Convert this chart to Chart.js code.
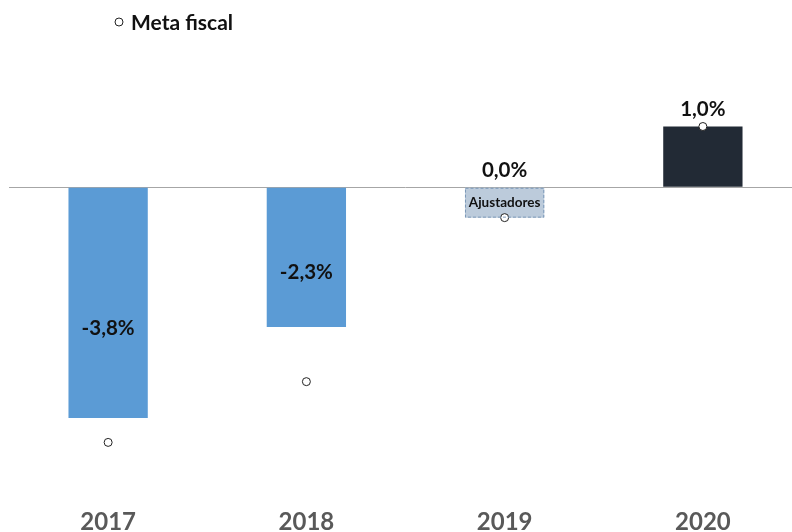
<!DOCTYPE html>
<html>
<head>
<meta charset="utf-8">
<script src="https://cdn.jsdelivr.net/npm/chart.js@4/dist/chart.umd.min.js"></script>
<style>
  html, body { margin: 0; padding: 0; background: #fff; overflow: hidden; }
  #wrap { position: relative; width: 807px; height: 540px; }
</style>
</head>
<body>
<div id="wrap"><canvas id="chart"></canvas></div>
<script>
const years = ["2017", "2018", "2019", "2020"];
const resultado = [-3.8, -2.3, 0.0, 1.0];
const resultadoLabels = ["-3,8%", "-2,3%", "0,0%", "1,0%"];
const ajustadores = [null, null, -0.5, null];
const metaFiscal = [-4.2, -3.2, -0.5, 1.0];
const barColors = ["#5b9bd5", "#5b9bd5", "#5b9bd5", "#222a35"];

const FONT = "Lato, 'Open Sans', sans-serif";

// value labels, the Ajustadores box border and the legend
const extras = {
  id: "extras",
  afterDatasetsDraw(chart) {
    const ctx = chart.ctx;
    const yScale = chart.scales.y;

    // dashed box around ajustadores
    const adjMeta = chart.getDatasetMeta(1);
    adjMeta.data.forEach((el, i) => {
      if (ajustadores[i] == null) return;
      const left = el.x - el.width / 2;
      ctx.save();
      ctx.strokeStyle = "#7b98b8";
      ctx.lineWidth = 1;
      ctx.setLineDash([3, 2]);
      ctx.strokeRect(left + 0.5, el.base + 0.5, el.width - 1, el.y - el.base - 1);
      ctx.restore();
      ctx.save();
      ctx.font = "bold 13.5px " + FONT;
      ctx.fillStyle = "#111";
      ctx.textAlign = "center";
      ctx.textBaseline = "middle";
      ctx.fillText("Ajustadores", el.x, (el.base + el.y) / 2);
      ctx.restore();
    });

    // value labels
    const barMeta = chart.getDatasetMeta(0);
    ctx.save();
    ctx.font = "bold 20.5px " + FONT;
    ctx.fillStyle = "#111";
    ctx.textAlign = "center";
    ctx.textBaseline = "middle";
    barMeta.data.forEach((el, i) => {
      const v = resultado[i];
      let y;
      if (v < 0) {
        y = yScale.getPixelForValue(v * 0.61);
      } else {
        y = el.y - 17;
      }
      ctx.fillText(resultadoLabels[i], el.x, y);
    });
    ctx.restore();
  },
  afterDraw(chart) {
    // legend
    const ctx = chart.ctx;
    ctx.save();
    ctx.beginPath();
    ctx.arc(119, 22, 4, 0, Math.PI * 2);
    ctx.fillStyle = "#fff";
    ctx.fill();
    ctx.strokeStyle = "#222";
    ctx.lineWidth = 1;
    ctx.stroke();
    ctx.font = "bold 21px " + FONT;
    ctx.fillStyle = "#111";
    ctx.textBaseline = "middle";
    ctx.textAlign = "left";
    ctx.fillText("Meta fiscal", 131, 23);
    ctx.restore();
  }
};

const ctx = document.getElementById("chart").getContext("2d");
const myChart = new Chart(ctx, {
  type: "bar",
  data: {
    labels: years,
    datasets: [
      {
        label: "Resultado",
        data: resultado,
        backgroundColor: barColors,
        borderWidth: 0,
        grouped: false,
        order: 2
      },
      {
        label: "Ajustadores",
        data: ajustadores,
        backgroundColor: "#bccbdb",
        borderWidth: 0,
        grouped: false,
        order: 1
      },
      {
        type: "line",
        label: "Meta fiscal",
        data: metaFiscal,
        showLine: false,
        pointRadius: 4,
        pointBackgroundColor: "#fff",
        pointBorderColor: "#222",
        pointBorderWidth: 1,
        order: 0
      }
    ]
  },
  options: {
    responsive: true,
    maintainAspectRatio: false,
    animation: false,
    layout: { padding: { left: 9, right: 0, top: 3, bottom: 0 } },
    datasets: {
      bar: { categoryPercentage: 0.4, barPercentage: 1.0 }
    },
    plugins: {
      legend: { display: false },
      tooltip: { enabled: false }
    },
    scales: {
      x: {
        grid: { display: false, drawTicks: false },
        border: { display: false },
        afterFit: (scale) => { scale.height = 49; },
        ticks: {
          padding: 17,
          color: "#595959",
          font: { family: FONT, size: 24, weight: "bold" }
        }
      },
      y: {
        min: -5,
        max: 3,
        border: { display: false },
        grid: {
          drawTicks: false,
          lineWidth: 1,
          color: (c) => (c.tick && c.tick.value === 0 ? "#a6a6a6" : "rgba(0,0,0,0)")
        },
        ticks: { display: false, stepSize: 1 }
      }
    }
  },
  plugins: [extras]
});
</script>
</body>
</html>
